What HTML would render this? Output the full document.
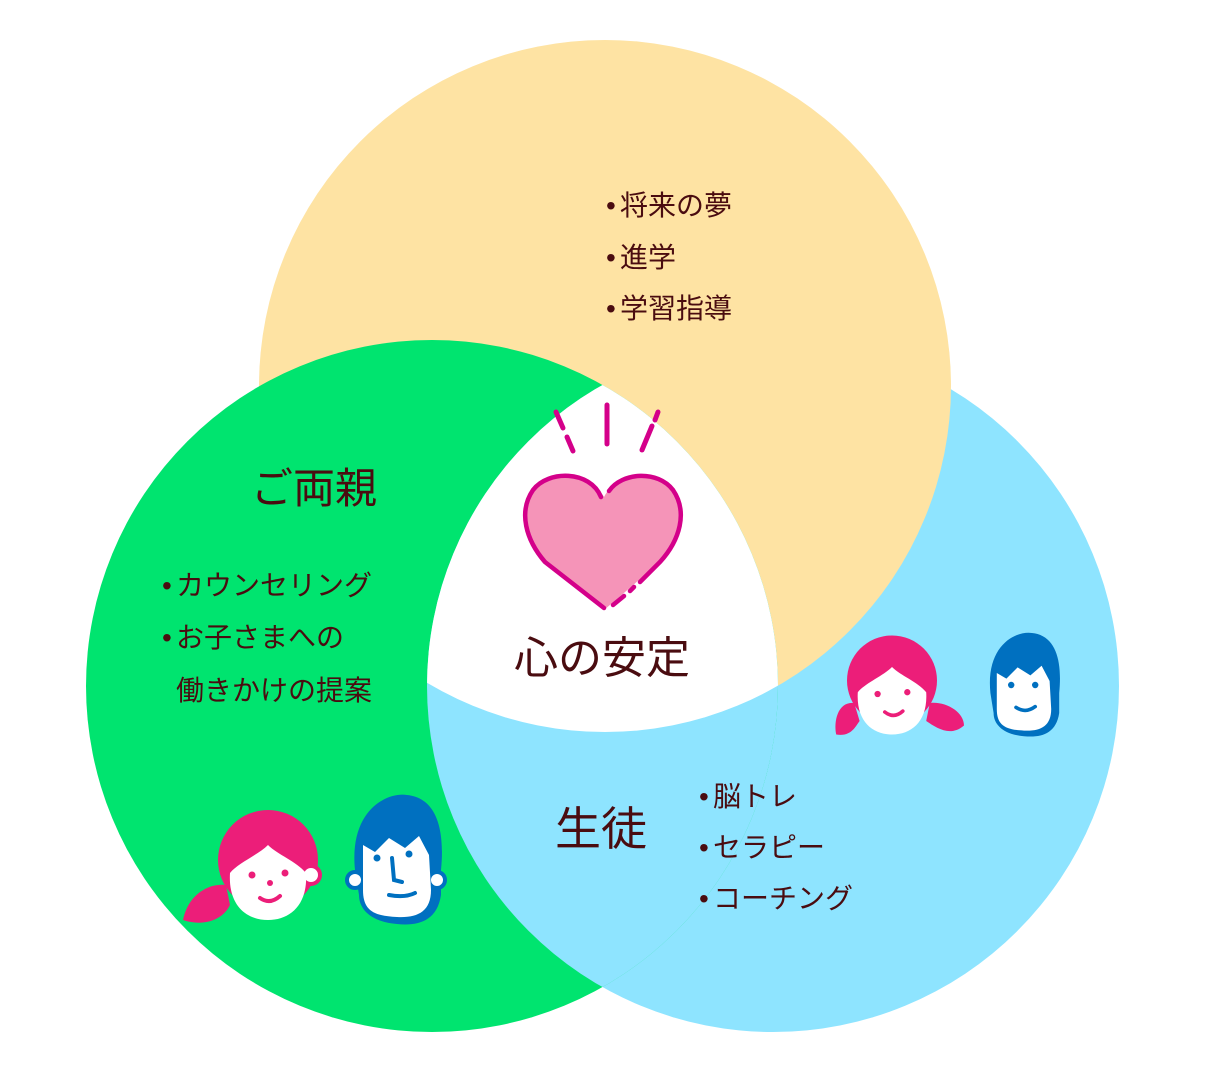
<!DOCTYPE html>
<html><head><meta charset="utf-8"><style>
html,body{margin:0;padding:0;background:#fff}
svg{display:block}
text{font-family:"Liberation Sans","Noto Sans CJK JP",sans-serif;fill:#4a0c10}
</style></head><body>
<svg width="1210" height="1072" viewBox="0 0 1210 1072">
<defs>
<clipPath id="cy"><circle cx="605" cy="386" r="346"/></clipPath>
<clipPath id="cg"><circle cx="432" cy="686" r="346"/></clipPath>
</defs>
<circle cx="773" cy="686" r="346" fill="#8ee4ff"/>
<circle cx="605" cy="386" r="346" fill="#fee3a3"/>
<circle cx="432" cy="686" r="346" fill="#00e46f"/>
<g clip-path="url(#cg)"><circle cx="773" cy="686" r="346" fill="#8ee4ff"/></g>
<g clip-path="url(#cy)"><g clip-path="url(#cg)"><circle cx="773" cy="686" r="346" fill="#fff"/></g></g>

<g stroke="#d4008a" stroke-width="5" stroke-linecap="round" fill="none">
<line x1="607" y1="405" x2="607" y2="444"/>
<line x1="556" y1="412" x2="563" y2="428"/>
<line x1="567" y1="437" x2="573" y2="451"/>
<line x1="658" y1="412" x2="655" y2="420"/>
<line x1="652" y1="426" x2="642" y2="450"/>
</g>
<path d="M604,497 C590,470 548,470 533,490 C518,512 526,540 545,562 L604,610 L660,562 C680,540 688,512 672,490 C656,470 618,470 604,497 Z" fill="#f594b8"/>
<path d="M601,497 C590,470 548,470 533,490 C518,512 526,540 545,562 L604,608" fill="none" stroke="#d4008a" stroke-width="4.5" stroke-linecap="round"/>
<path d="M609,491 C622,472 658,470 673,490 C688,512 680,540 660,562 L640,582" fill="none" stroke="#d4008a" stroke-width="4.5" stroke-linecap="round"/>
<path d="M634,587 L630,591 M624,596 L613,605" fill="none" stroke="#d4008a" stroke-width="4.5" stroke-linecap="round"/>

<g font-size="28">
<text x="606" y="215">•</text><text x="620" y="215">将来の夢</text>
<text x="606" y="267">•</text><text x="620" y="267">進学</text>
<text x="606" y="318">•</text><text x="620" y="318">学習指導</text>
<text x="162" y="595">•</text><text x="176" y="595">カウンセリング</text>
<text x="162" y="647">•</text><text x="176" y="647">お子さまへの</text>
<text x="176" y="700">働きかけの提案</text>
<text x="699" y="806">•</text><text x="713" y="806">脳トレ</text>
<text x="699" y="857">•</text><text x="713" y="857">セラピー</text>
<text x="699" y="908">•</text><text x="713" y="908">コーチング</text>
</g>
<text x="251" y="503" font-size="42">ご両親</text>
<text x="514" y="673" font-size="44">心の安定</text>
<text x="555" y="845" font-size="46">生徒</text>

<g transform="translate(268,865)">
<path d="M-42,20 C-60,18 -80,30 -85,55 C-65,62 -45,55 -38,40 Z" fill="#ec1e79"/>
<circle cx="0" cy="-5" r="50" fill="#ec1e79"/>
<circle cx="43" cy="10" r="9" fill="#fff" stroke="#ec1e79" stroke-width="4"/>
<path d="M-38,8 C-30,-2 -10,-10 0,-20 C10,-10 28,-4 38,8 C40,40 22,55 0,55 C-22,55 -40,40 -38,8 Z" fill="#fff"/>
<circle cx="-16" cy="10" r="3.5" fill="#ec1e79"/><circle cx="17" cy="8" r="3.5" fill="#ec1e79"/>
<circle cx="2" cy="18" r="3" fill="#ec1e79"/>
<path d="M-8,33 Q2,40 12,31" stroke="#ec1e79" stroke-width="4" fill="none" stroke-linecap="round"/>
</g>
<g transform="translate(397,860)">
<path d="M-42,10 C-48,-50 -10,-68 10,-65 C40,-62 48,-30 44,10 L44,35 C40,62 20,66 0,64 C-25,62 -38,50 -38,35 Z" fill="#0070c0"/>
<circle cx="-42" cy="20" r="8" fill="#fff" stroke="#0070c0" stroke-width="4"/>
<circle cx="40" cy="20" r="8" fill="#fff" stroke="#0070c0" stroke-width="4"/>
<path d="M-34,-15 L-22,-8 L-8,-22 L8,-12 L22,-24 L32,-5 L34,30 C34,52 20,58 0,57 C-24,56 -34,50 -34,30 Z" fill="#fff"/>
<circle cx="-20" cy="-2" r="3.5" fill="#0070c0"/><circle cx="12" cy="-6" r="3.5" fill="#0070c0"/>
<path d="M-5,-2 L-3,20 L5,22" stroke="#0070c0" stroke-width="4" fill="none" stroke-linecap="round"/>
<path d="M-8,35 Q8,38 18,33" stroke="#0070c0" stroke-width="4" fill="none" stroke-linecap="round"/>
</g>
<g transform="translate(892,685) scale(0.9)">
<path d="M-42,20 C-60,18 -65,40 -62,55 C-45,58 -40,45 -36,40 Z" fill="#ec1e79"/>
<path d="M42,20 C60,18 80,30 80,45 C65,58 50,48 38,40 Z" fill="#ec1e79"/>
<circle cx="0" cy="-5" r="50" fill="#ec1e79"/>
<path d="M-38,8 C-30,-2 -10,-10 0,-20 C10,-10 28,-4 38,8 C40,40 22,55 0,55 C-22,55 -40,40 -38,8 Z" fill="#fff"/>
<circle cx="-16" cy="10" r="3.5" fill="#ec1e79"/><circle cx="17" cy="8" r="3.5" fill="#ec1e79"/>
<path d="M-8,30 Q2,38 12,29" stroke="#ec1e79" stroke-width="4" fill="none" stroke-linecap="round"/>
</g>
<g transform="translate(1024,685) scale(0.8)">
<path d="M-42,10 C-48,-50 -10,-68 10,-65 C40,-62 48,-30 44,10 L44,35 C40,62 20,66 0,64 C-25,62 -38,50 -38,35 Z" fill="#0070c0"/>
<path d="M-34,-15 L-22,-8 L-8,-22 L8,-12 L22,-24 L32,-5 L34,30 C34,52 20,58 0,57 C-24,56 -34,50 -34,30 Z" fill="#fff"/>
<circle cx="-16" cy="0" r="4" fill="#0070c0"/><circle cx="14" cy="0" r="4" fill="#0070c0"/>
<path d="M-10,28 Q2,36 14,27" stroke="#0070c0" stroke-width="4.5" fill="none" stroke-linecap="round"/>
</g>
</svg>
</body></html>
